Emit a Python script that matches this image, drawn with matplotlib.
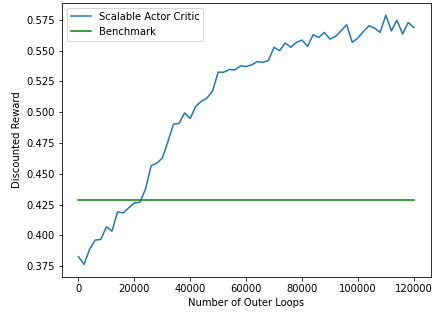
import matplotlib
matplotlib.use("Agg")
import matplotlib.pyplot as plt
import numpy as np

outer_loops = list(range(0, 120001, 2000))
rewards = [0.3828, 0.3766, 0.3887, 0.3962, 0.3968, 0.4070, 0.4035, 0.4191, 0.4183, 0.4223,
           0.4264, 0.4269, 0.4377, 0.4565, 0.4586, 0.4627, 0.4760, 0.4903, 0.4909, 0.4994,
           0.4949, 0.5048, 0.5089, 0.5115, 0.5172, 0.5325, 0.5325, 0.5347, 0.5344, 0.5377,
           0.5371, 0.5385, 0.5411, 0.5406, 0.5420, 0.5527, 0.5500, 0.5562, 0.5527, 0.5567,
           0.5586, 0.5535, 0.5629, 0.5607, 0.5648, 0.5594, 0.5615, 0.5661, 0.5710, 0.5567,
           0.5602, 0.5656, 0.5702, 0.5683, 0.5648, 0.5788, 0.5661, 0.5747, 0.5635, 0.5728,
           0.5688]
benchmark_x = [0, 120000]
benchmark = [0.4285, 0.4285]

fig = plt.figure(figsize=(6, 318/72), dpi=72)
ax = fig.add_axes([61.7/432, 1-276.7/318, (430.5-61.7)/432, (276.7-2.7)/318])
ax.plot(outer_loops, rewards, color='tab:blue', label='Scalable Actor Critic')
ax.plot(benchmark_x, benchmark, color='g', label='Benchmark')
ax.set_xlabel('Number of Outer Loops')
ax.set_ylabel('Discounted Reward')
ax.legend(loc='upper left')
fig.savefig('out.png', dpi=72)
